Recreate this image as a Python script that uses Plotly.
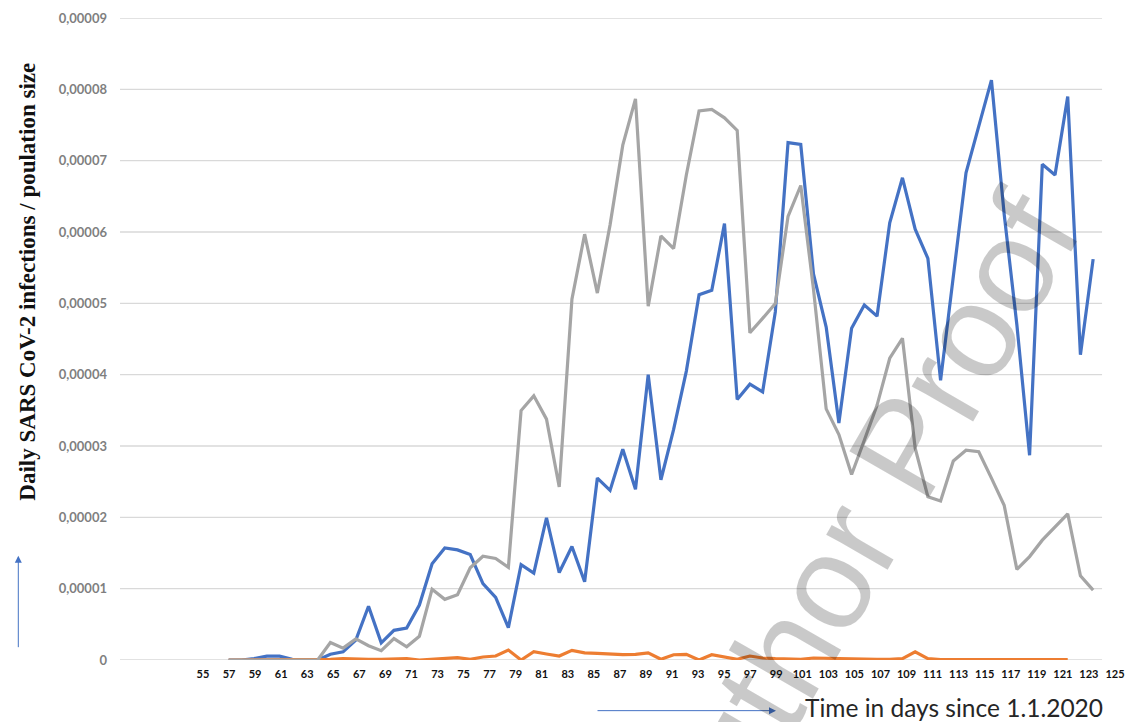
import plotly.graph_objects as go

# ---- data (values in units of 1e-5 infections per population) ----
SCALE = 1e-5
days = list(range(57, 126))

series_blue = [
    0, 0, 0.02, 0.055, 0.055, 0.01, 0, 0,
    0.08, 0.115, 0.28, 0.753, 0.24, 0.416, 0.448, 0.771, 1.349, 1.57, 1.543, 1.478, 1.072, 0.878,
    0.453, 1.337, 1.217, 1.994, 1.226, 1.591, 1.097, 2.551, 2.378, 2.954, 2.393, 4.001, 2.527, 3.233,
    4.05, 5.12, 5.184, 6.117, 3.653, 3.867, 3.76, 4.88, 7.253, 7.227, 5.413, 4.667, 3.323, 4.651,
    4.976, 4.82, 6.13, 6.76, 6.04, 5.63, 3.92, 5.4, 6.83, 7.48, 8.13, 6.25, 4.7, 2.87,
    6.95, 6.80, 7.90, 4.28, 5.62,
]

series_orange = [
    0, 0, 0.01, 0.01, 0.01, 0, 0, 0,
    0.01, 0.02, 0.01, 0.01, 0.01, 0.01, 0.02, 0, 0.01, 0.023, 0.033, 0.01, 0.042, 0.056,
    0.14, 0, 0.116, 0.084, 0.056, 0.135, 0.1, 0.093, 0.084, 0.074, 0.079, 0.1, 0.01, 0.074,
    0.079, 0, 0.074, 0.047, 0.01, 0.056, 0.028, 0.019, 0.01, 0.01, 0.028, 0.023, 0.028, 0.019,
    0.01, 0.01, 0.01, 0.019, 0.116, 0.019, 0.005, 0.005, 0.005, 0.005, 0.005, 0.005, 0.005, 0.005,
    0.005, 0.005, 0.005, None, None,
]

series_gray = [
    0, 0, 0, 0, 0, 0, 0, 0,
    0.245, 0.166, 0.296, 0.2, 0.13, 0.3, 0.185, 0.333, 0.993, 0.85, 0.915, 1.293, 1.455, 1.423,
    1.3, 3.497, 3.703, 3.377, 2.426, 5.057, 5.969, 5.144, 6.1, 7.217, 7.866, 4.961, 5.945, 5.768,
    6.8, 7.696, 7.717, 7.6, 7.424, 4.587, 4.789, 4.997, 6.22, 6.652, 5.2, 3.52, 3.16, 2.6,
    3.08, 3.57, 4.23, 4.51, 2.97, 2.29, 2.23, 2.79, 2.94, 2.92, 2.55, 2.17, 1.27, 1.45,
    1.68, 1.87, 2.05, 1.18, 0.98,
]

x_tick_labels = list(range(55, 126, 2))
y_tick_values = [0, 1, 2, 3, 4, 5, 6, 7, 8, 9]
y_tick_text = ["0", "0,00001", "0,00002", "0,00003", "0,00004",
               "0,00005", "0,00006", "0,00007", "0,00008", "0,00009"]

y_title = "Daily SARS CoV-2 infections / poulation size"
x_title = "Time in days since 1.1.2020"
watermark = "Author Proof"


def scaled(vals):
    return [None if v is None else v * SCALE for v in vals]


fig = go.Figure()
fig.add_trace(go.Scatter(x=days, y=scaled(series_blue), mode="lines",
                         line=dict(color="#4472C4", width=3.2), showlegend=False, hoverinfo="skip"))
fig.add_trace(go.Scatter(x=days, y=scaled(series_orange), mode="lines",
                         line=dict(color="#ED7D31", width=3.2), showlegend=False, hoverinfo="skip"))
fig.add_trace(go.Scatter(x=days, y=scaled(series_gray), mode="lines",
                         line=dict(color="#A5A5A5", width=3.2), showlegend=False, hoverinfo="skip"))
# invisible helper so the day-label axis is drawn
fig.add_trace(go.Scatter(x=x_tick_labels, y=[0] * len(x_tick_labels), xaxis="x2",
                         mode="markers", marker=dict(opacity=0, size=1),
                         showlegend=False, hoverinfo="skip"))

shapes = []
for v in y_tick_values:
    shapes.append(dict(type="line", xref="paper", x0=0, x1=0.9801, yref="y",
                       y0=v * SCALE, y1=v * SCALE,
                       line=dict(color="#d9d9d9", width=1.3), layer="below"))

annotations = [
    dict(text=y_title, xref="paper", yref="paper", x=-0.0925, y=0.5898,
         textangle=-90, showarrow=False, xanchor="center", yanchor="middle",
         font=dict(family="Liberation Serif", size=23, color="#111111", weight="bold")),
    # vertical arrow
    dict(text="", xref="paper", yref="paper", x=-0.1015, y=0.1625, ax=0, ay=93,
         showarrow=True, arrowhead=2, arrowsize=1.4, arrowwidth=1, arrowcolor="#4472C4"),
    # horizontal arrow
    dict(text="", xref="paper", yref="paper", x=0.6547, y=-0.0789, ax=-180, ay=0,
         showarrow=True, arrowhead=2, arrowsize=1.4, arrowwidth=1, arrowcolor="#4472C4"),
    dict(text=x_title, xref="paper", yref="paper", x=0.6816, y=-0.0743,
         xanchor="left", yanchor="middle", showarrow=False,
         font=dict(family="Lato", size=24.5, color="#262626")),
    dict(text=watermark, xref="paper", yref="paper", x=0.7343, y=0.2004,
         xanchor="center", yanchor="middle", showarrow=False, textangle=-60,
         font=dict(family="Liberation Sans", size=134, color="rgba(0,0,0,0.21)")),
]

fig.update_layout(
    width=1135, height=722,
    margin=dict(l=120, r=10, t=14, b=62),
    paper_bgcolor="white", plot_bgcolor="white",
    showlegend=False,
    xaxis=dict(range=[48.45, 127.27], showticklabels=False, showgrid=False,
               zeroline=False, showline=False, ticks=""),
    xaxis2=dict(overlaying="x", anchor="y", side="bottom", range=[48.63, 125.54],
                tickmode="array", tickvals=x_tick_labels,
                ticktext=[str(v) for v in x_tick_labels],
                showgrid=False, zeroline=False, showline=False, ticks="",
                ticklabelstandoff=6,
                tickfont=dict(family="Lato", size=11, color="#111111", weight="bold")),
    yaxis=dict(range=[0, 9e-5], tickmode="array",
               tickvals=[v * SCALE for v in y_tick_values], ticktext=y_tick_text,
               showgrid=False, zeroline=False, showline=False, ticks="",
               ticklabelstandoff=12,
               tickfont=dict(family="Lato", size=13, color="#7f7f7f", weight="bold")),
    shapes=shapes,
    annotations=annotations,
)

fig.write_html("out.html", config={"displayModeBar": False},
               post_script="document.body.style.margin='0';document.body.style.padding='0';")
